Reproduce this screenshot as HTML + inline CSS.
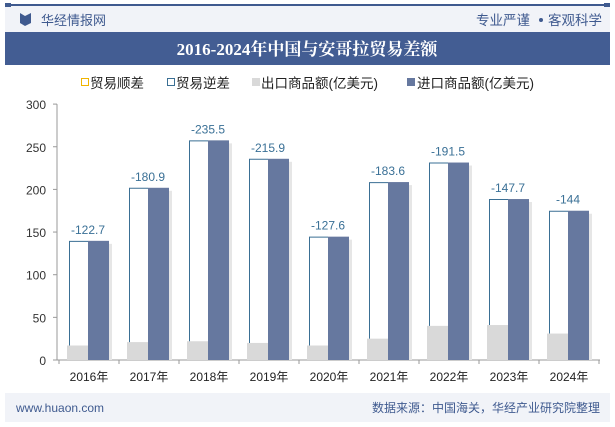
<!DOCTYPE html>
<html><head><meta charset="utf-8"><style>
body{margin:0;width:615px;height:427px;overflow:hidden;background:#fff;font-family:"Liberation Sans","Noto Sans CJK SC",sans-serif}
</style></head><body>
<svg id="c" width="615" height="427" xmlns="http://www.w3.org/2000/svg" style="position:absolute;left:0;top:0">
<rect x="0" y="0" width="615" height="427" fill="#ffffff"/>
<rect x="5" y="5" width="605" height="27" fill="#f1f3f8"/>
<rect x="5" y="4" width="605" height="2" fill="#3f5a8f"/>
<rect x="5" y="3" width="6" height="4" fill="#3f5a8f"/><rect x="604" y="3" width="6" height="4" fill="#3f5a8f"/>
<path d="M20,13 L25,16 L25,26 L20,23 Z M31,13 L25,16 L25,26 L31,23 Z" fill="#3f5a8f"/>
<text x="41" y="25" font-size="13" fill="#3f5a8f">华经情报网</text>
<text x="530" y="25" font-size="13.5" fill="#3f5a8f" text-anchor="end">专业严谨</text>
<circle cx="541" cy="20" r="2" fill="#3f5a8f"/>
<text x="602" y="25" font-size="13.5" fill="#3f5a8f" text-anchor="end">客观科学</text>
<rect x="5" y="32" width="605" height="33" fill="#435d93"/>
<text x="307" y="55" font-size="17" font-weight="bold" fill="#fff" text-anchor="middle" font-family="Liberation Serif,Noto Serif CJK SC,serif">2016-2024年中国与安哥拉贸易差额</text>
<g font-size="13.5" fill="#222">
<g><rect x="81.5" y="78.5" width="7" height="7" fill="#fff" stroke="#f0b400"/><text x="90" y="88">贸易顺差</text></g>
<g><rect x="167.5" y="78.5" width="7" height="7" fill="#fff" stroke="#3a6f94"/><text x="176" y="88">贸易逆差</text></g>
<g><rect x="252" y="78" width="8" height="8" fill="#d9d9d9"/><text x="261" y="88">出口商品额(亿美元)</text></g>
<g><rect x="407" y="78" width="8" height="8" fill="#66789f"/><text x="417" y="88">进口商品额(亿美元)</text></g>
</g>
<g id="plot"></g>
<rect x="5" y="393" width="605" height="29" fill="#f1f3f8"/>
<text x="16" y="412" font-size="12" fill="#3f5a8f">www.huaon.com</text>
<text x="600" y="412" font-size="12" fill="#3f5a8f" text-anchor="end">数据来源：中国海关，华经产业研究院整理</text>
</svg>
<script>
const years=["2016年","2017年","2018年","2019年","2020年","2021年","2022年","2023年","2024年"];
const exportVals=[17,21,22,20,17,25,40,41,31];
const importVals=[139.7,201.9,257.5,235.9,144.6,208.6,231.5,188.7,175];
const deficitLabels=["-122.7","-180.9","-235.5","-215.9","-127.6","-183.6","-191.5","-147.7","-144"];
const yTicks=[0,50,100,150,200,250,300];
const NS="http://www.w3.org/2000/svg";
const g=document.getElementById('plot');
const x0=59,cw=60,yBase=360,k=0.853;
const y=v=>yBase-v*k;
function mk(t,a,p){const e=document.createElementNS(NS,t);for(const n in a)e.setAttribute(n,a[n]);(p||g).appendChild(e);return e;}
yTicks.forEach(v=>{const t=mk('text',{x:46,y:y(v)+5,'font-size':12,fill:'#333','text-anchor':'end'});t.textContent=v;


mk('line',{x1:53,x2:57,y1:y(v),y2:y(v),stroke:'#999'});});
mk('line',{x1:57,x2:57,y1:y(300),y2:yBase,stroke:'#999'});
mk('line',{x1:57,x2:600,y1:yBase,y2:yBase,stroke:'#999'});
years.forEach((yr,i)=>{
 const cx=x0+i*cw;
 mk('line',{x1:cx,x2:cx,y1:yBase,y2:yBase+4,stroke:'#999'});
 const ex=mk('rect',{x:cx+8,y:y(exportVals[i]),width:21,height:exportVals[i]*k,fill:'#d9d9d9'});
 
 
 const top=y(importVals[i]);
 const ol=mk('path',{d:`M${cx+10.5},${y(exportVals[i])} L${cx+10.5},${top+0.5} L${cx+29},${top+0.5}`,fill:'none',stroke:'#3a6f94','stroke-width':1});
 
 
 mk('rect',{x:cx+32,y:top+3,width:21,height:importVals[i]*k-3,fill:'#e6e6e6'});
 const im=mk('rect',{x:cx+29,y:top,width:21,height:importVals[i]*k,fill:'#66789f'});
 
 
 const lb=mk('text',{x:cx+29,y:top-7,'font-size':12,fill:'#3a7096','text-anchor':'middle'});lb.textContent=deficitLabels[i];
 
 
 const xl=mk('text',{x:cx+30,y:yBase+21,'font-size':12,fill:'#222','text-anchor':'middle'});xl.textContent=yr;
 
 
});
mk('line',{x1:x0+9*cw,x2:x0+9*cw,y1:yBase,y2:yBase+4,stroke:'#999'});
</script>
</body></html>
